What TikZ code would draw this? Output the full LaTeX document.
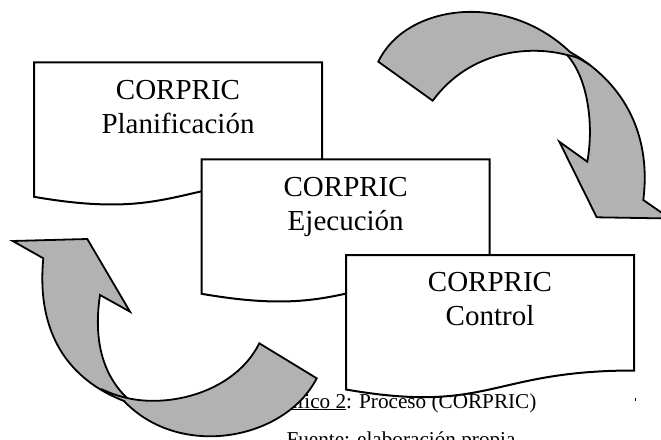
\documentclass[tikz,border=0pt]{standalone}
\usepackage{fontspec}
\setmainfont{Liberation Serif}
\definecolor{bandgray}{RGB}{178,178,178}

\begin{document}
\begin{tikzpicture}[x=1pt, y=-1pt,
    docbox/.style={draw=black, fill=white, line width=2pt},
    band/.style={draw=black, fill=bandgray, line width=1.8pt, line join=miter},
    fold/.style={draw=black, line width=1.8pt},
    boxtext/.style={anchor=base, inner sep=0pt, font=\fontsize{29}{34}\selectfont},
    captext/.style={anchor=base, inner sep=0pt, font=\fontsize{21.2}{25}\selectfont}]

    \useasboundingbox (0,0) rectangle (661,439);
    \clip (0,0) rectangle (661,439);

    % Caption (partly hidden behind the shapes)
    \node[captext] (cap) at (401,408) {\underline{Gráfico 2}: Proceso (CORPRIC)};
    \node[captext] (src) at (401,446) {Fuente: elaboración propia};
    \fill (634.5,398) rectangle (635.5,400.5);

    % Document boxes
    \draw[docbox] (34,62.3) -- (322,62.3) -- (322,177.8)
        .. controls (178,177.8) and (178,221.8) .. (34,196.8) -- cycle;
    \node[boxtext] (plan1) at (178,99) {CORPRIC};
    \node[boxtext] (plan2) at (178,133) {Planificación};

    \draw[docbox] (201.7,159.3) -- (489.7,159.3) -- (489.7,274.8)
        .. controls (345.7,274.8) and (345.7,318.8) .. (201.7,293.8) -- cycle;
    \node[boxtext] (ejec1) at (345.7,196) {CORPRIC};
    \node[boxtext] (ejec2) at (345.7,230) {Ejecución};

    \draw[docbox] (346,255) -- (634,255) -- (634,370.5)
        .. controls (490,370.5) and (490,414.5) .. (346,389.5) -- cycle;
    \node[boxtext] (ctrl1) at (490,291.7) {CORPRIC};
    \node[boxtext] (ctrl2) at (490,325.7) {Control};

    % Curved arrow top right
    \draw[band] (378.3,61.7) .. controls (405,5) and (505,-10) .. (570,52)
        .. controls (620,80) and (652,130) .. (643.3,200)
        -- (670,218.5) -- (596.7,217.3) -- (559.3,141.7) -- (587.3,161.7)
        .. controls (594,125) and (588,78) .. (567,55)
        .. controls (530,45) and (470,50) .. (432.7,100.7) -- cycle;
    \draw[fold] (567,55) .. controls (577,57) .. (590,65);

    % Curved arrow bottom left
    \draw[band] (43.3,258.3) -- (12.7,241) -- (87.3,239) -- (130,311.7) -- (100,295)
        .. controls (94,335) and (100,372) .. (127,398)
        .. controls (170,408) and (235,392) .. (259.3,343.3)
        -- (316.7,378.3)
        .. controls (285,440) and (180,460) .. (124,401)
        .. controls (70,380) and (36,335) .. (43.3,258.3) -- cycle;
    \draw[fold] (127,398) .. controls (115,395) .. (101,389);

\end{tikzpicture}
\end{document}
